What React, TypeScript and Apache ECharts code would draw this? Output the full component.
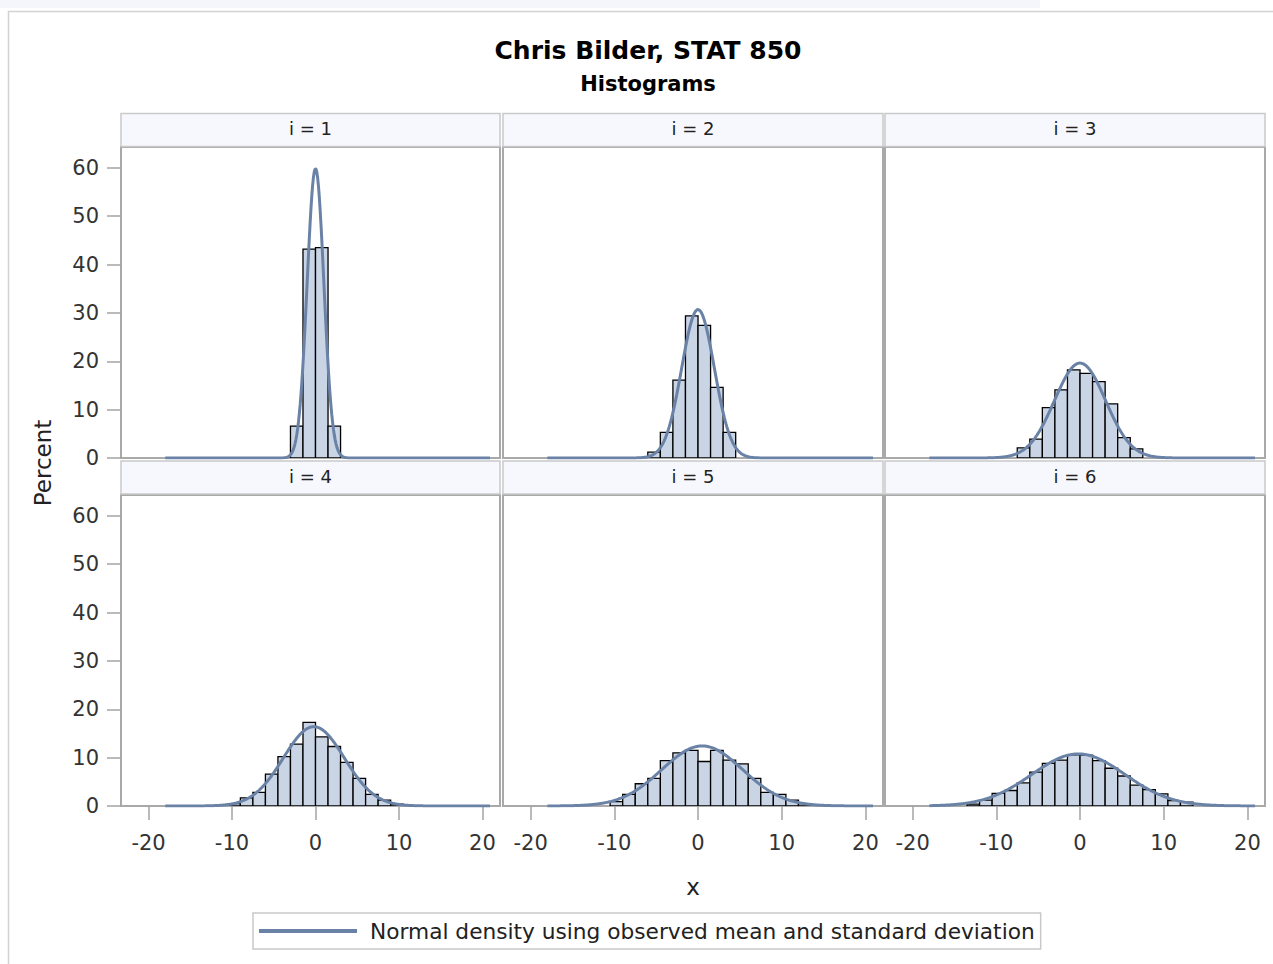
import React, { useEffect, useRef } from 'react';
import * as echarts from 'echarts';

// ---------- data ----------
const PANEL_LABELS = ['i = 1', 'i = 2', 'i = 3', 'i = 4', 'i = 5', 'i = 6'];
const BIN_WIDTH = 1.5;
const BIN_STARTS = [-3, -6, -7.5, -10.5, -10.5, -13.5];
const PCT_I1 = [6.6, 43.2, 43.5, 6.6];
const PCT_I2 = [1.2, 5.3, 16.1, 29.4, 27.4, 14.6, 5.3];
const PCT_I3 = [2.1, 3.9, 10.4, 14.1, 18.2, 17.5, 15.8, 11.2, 4.2, 1.9];
const PCT_I4 = [0.5, 1.7, 2.8, 6.6, 10.2, 12.8, 17.3, 14.3, 12.3, 9.0, 5.7, 2.4, 1.2, 0.4];
const PCT_I5 = [0.9, 2.4, 4.6, 5.7, 9.4, 11.0, 11.5, 9.2, 11.5, 9.5, 8.7, 5.7, 2.8, 2.4, 1.2, 0.5];
const PCT_I6 = [0.4, 1.2, 2.6, 3.2, 4.8, 7.0, 8.8, 9.5, 10.6, 10.5, 9.4, 7.8, 6.2, 4.3, 3.4, 2.5, 1.1, 0.8];
const PERCENTS = [PCT_I1, PCT_I2, PCT_I3, PCT_I4, PCT_I5, PCT_I6];
const MEANS = [0.0, 0.0, 0.0, -0.2, 0.5, -0.2];
const STD_DEVS = [1.0, 1.95, 3.05, 3.65, 4.82, 5.56];
const CURVE_X_RANGE = [-18.0, 20.9];
const X_TICKS = [-20, -10, 0, 10, 20];
const Y_TICKS = [0, 10, 20, 30, 40, 50, 60];
const TITLE = 'Chris Bilder, STAT 850';
const SUBTITLE = 'Histograms';
const X_LABEL = 'x';
const Y_LABEL = 'Percent';
const LEGEND_LABEL = 'Normal density using observed mean and standard deviation';

// ---------- layout / style ----------
const FONT = 'DejaVu Sans';
const COL_LEFT = [121, 503, 885];
const COL_W = [379, 380, 380];
const ROW_TOP = [147, 495];
const ROW_H = 311;
const STRIP_TOP = [113.5, 461];
const STRIP_H = 33;
const X_AXIS_MIN = -23.3;
const X_AXIS_MAX = 22.1;
const Y_AXIS_MAX = 64.3;
const BAR_FILL = '#c9d4e5';
const CURVE_COLOR = '#6a82a6';
const TEXT_COLOR = '#222';

function buildOption() {
  const grid: any[] = [];
  const xAxis: any[] = [];
  const yAxis: any[] = [];
  const series: any[] = [];
  const graphic: any[] = [];

  graphic.push({
    type: 'rect', z: -10, silent: true,
    shape: { x: 0, y: 0, width: 1040, height: 8 },
    style: { fill: '#f4f6fb' },
  });
  graphic.push({
    type: 'rect', z: -10, silent: true,
    shape: { x: 8.5, y: 11.5, width: 1300, height: 1000 },
    style: { fill: 'none', stroke: '#d2d2d2', lineWidth: 1.5 },
  });
  graphic.push({
    type: 'text', style: { text: TITLE, x: 648, y: 50, align: 'center', verticalAlign: 'middle', fontSize: 25, fontWeight: 'bold', fontFamily: FONT, fill: '#000' },
  });
  graphic.push({
    type: 'text', style: { text: SUBTITLE, x: 648, y: 84, align: 'center', verticalAlign: 'middle', fontSize: 21, fontWeight: 'bold', fontFamily: FONT, fill: '#000' },
  });
  graphic.push({
    type: 'text', style: { text: X_LABEL, x: 693, y: 887, align: 'center', verticalAlign: 'middle', fontSize: 23, fontFamily: FONT, fill: TEXT_COLOR },
  });
  graphic.push({
    type: 'text', x: 43, y: 463, rotation: Math.PI / 2,
    style: { text: Y_LABEL, x: 0, y: 0, align: 'center', verticalAlign: 'middle', fontSize: 23, fontFamily: FONT, fill: TEXT_COLOR },
  });

  for (let i = 0; i < 6; i++) {
    const col = i % 3;
    const row = Math.floor(i / 3);
    grid.push({
      left: COL_LEFT[col], top: ROW_TOP[row], width: COL_W[col], height: ROW_H,
      show: true, borderColor: '#a9a9a9', borderWidth: 2, backgroundColor: '#fff',
    });
    graphic.push({
      type: 'rect', silent: true,
      shape: { x: COL_LEFT[col], y: STRIP_TOP[row], width: COL_W[col], height: STRIP_H },
      style: { fill: '#f7f8fd', stroke: '#c9c9c9', lineWidth: 1.5 },
    });
    graphic.push({
      type: 'text', silent: true,
      style: { text: PANEL_LABELS[i], x: COL_LEFT[col] + COL_W[col] / 2, y: STRIP_TOP[row] + STRIP_H / 2 - 1.5, align: 'center', verticalAlign: 'middle', fontSize: 18, fontFamily: FONT, fill: TEXT_COLOR },
    });
    const bottom = row === 1;
    const left = col === 0;
    xAxis.push({
      type: 'value', gridIndex: i, min: X_AXIS_MIN, max: X_AXIS_MAX, position: 'bottom',
      axisLine: { show: false, onZero: false },
      splitLine: { show: false },
      axisTick: { show: bottom, customValues: X_TICKS, length: 14, lineStyle: { color: '#a3a3a3', width: 1.5 } },
      axisLabel: { show: bottom, customValues: X_TICKS, fontSize: 21, color: '#333', fontFamily: FONT, margin: 26 },
    });
    yAxis.push({
      type: 'value', gridIndex: i, min: 0, max: Y_AXIS_MAX, position: 'left',
      axisLine: { show: false, onZero: false },
      splitLine: { show: false },
      axisTick: { show: left, customValues: Y_TICKS, length: 14, lineStyle: { color: '#a3a3a3', width: 1.5 } },
      axisLabel: { show: left, customValues: Y_TICKS, fontSize: 21, color: '#333', fontFamily: FONT, margin: 22 },
    });

    const bins = PERCENTS[i].map((p, k) => {
      const x0 = BIN_STARTS[i] + k * BIN_WIDTH;
      return [x0, x0 + BIN_WIDTH, p];
    });
    series.push({
      type: 'custom', name: 'Histogram ' + PANEL_LABELS[i], xAxisIndex: i, yAxisIndex: i,
      clip: true, z: 2,
      encode: { x: [0, 1], y: 2 },
      data: bins,
      renderItem: (params: any, api: any) => {
        const p0 = api.coord([api.value(0), api.value(2)]);
        const p1 = api.coord([api.value(1), 0]);
        return {
          type: 'rect',
          shape: { x: p0[0], y: p0[1], width: p1[0] - p0[0], height: p1[1] - p0[1] },
          style: { fill: BAR_FILL, stroke: '#000', lineWidth: 1.3 },
        };
      },
    });

    const mu = MEANS[i];
    const sd = STD_DEVS[i];
    const n = 390;
    const curve: number[][] = [];
    for (let k = 0; k <= n; k++) {
      const x = CURVE_X_RANGE[0] + (k * (CURVE_X_RANGE[1] - CURVE_X_RANGE[0])) / n;
      const z = (x - mu) / sd;
      const y = (100 * BIN_WIDTH * Math.exp(-0.5 * z * z)) / (sd * Math.sqrt(2 * Math.PI));
      curve.push([x, y]);
    }
    series.push({
      type: 'line', name: LEGEND_LABEL, xAxisIndex: i, yAxisIndex: i, z: 3,
      data: curve, symbol: 'none', showSymbol: false, smooth: false,
      lineStyle: { color: CURVE_COLOR, width: 3 },
      itemStyle: { color: CURVE_COLOR },
    });
  }

  return {
    animation: false,
    backgroundColor: '#fff',
    textStyle: { fontFamily: FONT },
    grid, xAxis, yAxis, series, graphic,
    legend: {
      data: [LEGEND_LABEL],
      left: 253, top: 913,
      padding: [7, 6, 7, 6],
      borderColor: '#c9c9c9', borderWidth: 1.5, backgroundColor: '#fff',
      icon: 'rect',
      itemWidth: 98, itemHeight: 4, itemGap: 0,
      selectedMode: false,
      itemStyle: { color: CURVE_COLOR },
      textStyle: { fontSize: 21.7, color: TEXT_COLOR, fontFamily: FONT, padding: [0, 0, 0, 8] },
    },
  };
}

export default function App() {
  const ref = useRef<HTMLDivElement>(null);
  useEffect(() => {
    if (!ref.current) return;
    const chart = echarts.init(ref.current, undefined, { renderer: 'svg' });
    chart.setOption(buildOption() as any);
    return () => chart.dispose();
  }, []);
  return (
    <div
      ref={ref}
      style={{ position: 'absolute', left: 0, top: 0, width: 1273, height: 964 }}
    />
  );
}
